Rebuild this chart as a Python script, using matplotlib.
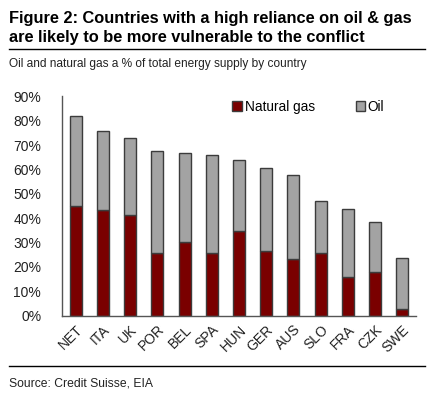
import matplotlib.pyplot as plt
from matplotlib.lines import Line2D
from matplotlib.ticker import FuncFormatter

plt.rcParams['font.family'] = ['Liberation Sans', 'DejaVu Sans']

countries = ["NET", "ITA", "UK", "POR", "BEL", "SPA", "HUN", "GER", "AUS", "SLO", "FRA", "CZK", "SWE"]
gas = [45.1, 43.2, 41.3, 25.8, 30.1, 25.8, 34.7, 26.5, 23.2, 25.6, 15.8, 17.8, 2.7]
total = [82.1, 75.8, 73.1, 67.7, 66.7, 65.8, 63.9, 60.8, 57.6, 47.1, 43.6, 38.4, 23.6]
oil = [t - g for t, g in zip(total, gas)]

gas_col = "#7a0000"
oil_col = "#a3a3a3"
edge = "#3c3c3c"

fig = plt.figure(figsize=(4.33, 4.0), dpi=100)
W, H = 433, 400

# title block
fig.text(9 / W, 1 - 11 / H, "Figure 2: Countries with a high reliance on oil & gas\nare likely to be more vulnerable to the conflict",
         fontsize=11.8, fontweight="bold", va="top", ha="left", linespacing=1.3)
fig.add_artist(Line2D([9 / W, 425 / W], [1 - 49 / H, 1 - 49 / H], color="black", lw=1))
fig.text(9 / W, 1 - 64 / H, "Oil and natural gas a % of total energy supply by country",
         fontsize=8.6, va="center", ha="left", color="#222222")

ax = fig.add_axes([62 / W, 1 - 315.5 / H, (416 - 62) / W, (315.5 - 96.5) / H])
x = range(len(countries))
ax.bar(x, gas, width=0.44, color=gas_col, edgecolor=edge, linewidth=1, label="Natural gas")
ax.bar(x, oil, width=0.44, bottom=gas, color=oil_col, edgecolor=edge, linewidth=1, label="Oil")

ax.set_xlim(-0.5, len(countries) - 0.5)
ax.set_ylim(0, 90)
ax.set_yticks(range(0, 91, 10))
ax.yaxis.set_major_formatter(FuncFormatter(lambda v, p: f"{v:.0f}%"))
ax.set_xticks(list(x))
ax.set_xticklabels(countries, rotation=45, ha="right", rotation_mode="anchor")
ax.tick_params(axis="both", length=0, labelsize=10, colors="#222222")
ax.tick_params(axis="y", pad=15)
ax.tick_params(axis="x", pad=5)
for s in ["top", "right"]:
    ax.spines[s].set_visible(False)
for s in ["left", "bottom"]:
    ax.spines[s].set_color("#555555")
    ax.spines[s].set_linewidth(1)

ax.legend(loc="upper right", bbox_to_anchor=(0.945, 1.04), ncol=2, frameon=False, fontsize=9.8,
          handlelength=0.7, handleheight=0.7, handletextpad=0.2, columnspacing=3.0)

fig.add_artist(Line2D([9 / W, 425 / W], [1 - 366 / H, 1 - 366 / H], color="black", lw=1))
fig.text(9 / W, 1 - 384 / H, "Source: Credit Suisse, EIA", fontsize=8.7, va="center", ha="left", color="#222222")

fig.savefig("out.png", dpi=100)
